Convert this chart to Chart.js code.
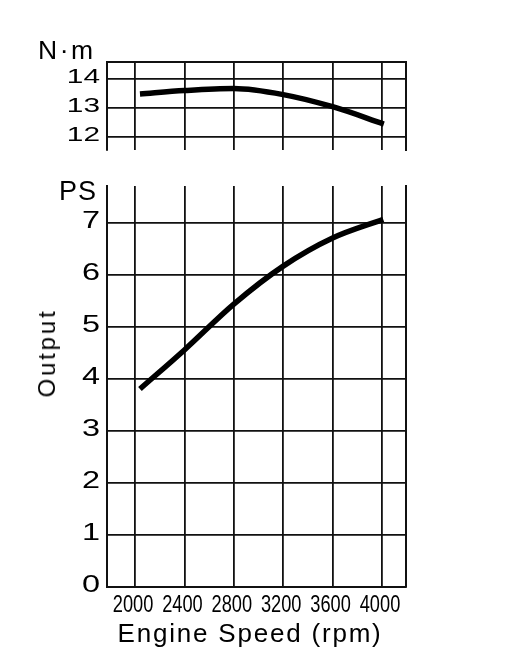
<!DOCTYPE html>
<html>
<head>
<meta charset="utf-8">
<script src="https://cdn.jsdelivr.net/npm/chart.js@4/dist/chart.umd.min.js"></script>
<style>
  html, body { margin: 0; padding: 0; background: #fff; }
  #page { position: relative; width: 530px; height: 657px; overflow: hidden; }
  canvas { position: absolute; left: 0; top: 0; }
  .lbl {
    position: absolute; color: #000; white-space: nowrap;
    font-family: 'Liberation Sans', Arial, sans-serif; line-height: 1;
  }
</style>
</head>
<body>
<div id="page">
  <canvas id="torqueChart" width="530" height="160"></canvas>
  <canvas id="powerChart" width="530" height="657"></canvas>
  <div class="lbl" style="left:38px; top:36.5px; font-size:26.5px; letter-spacing:2.5px;">N·m</div>
  <div class="lbl" style="left:59px; top:178px; font-size:27px; letter-spacing:1px;">PS</div>
  <div class="lbl" style="left:46.5px; top:353px; font-size:24px; letter-spacing:2.8px; transform:translate(-50%,-50%) rotate(-90deg);">Output</div>
  <div class="lbl" style="left:117.5px; top:620px; font-size:26px; letter-spacing:1.8px;">Engine Speed (rpm)</div>
</div>
<script>
// ── Data ─────────────────────────────────────────────────────
const torqueRpm = [2040, 2400, 2800, 3200, 3600, 4015];
const torqueNm = [13.49, 13.61, 13.68, 13.47, 13.05, 12.45];

const powerRpm = [2040, 2400, 2800, 3200, 3600, 4010];
const powerPS = [3.80, 4.55, 5.43, 6.16, 6.70, 7.06];

const rpmTicks = [2000, 2400, 2800, 3200, 3600, 4000];
const torqueTicks = [12, 13, 14];
const powerTicks = [0, 1, 2, 3, 4, 5, 6, 7];

// ── Shared look ──────────────────────────────────────────────
const INK = '#111';
const FAMILY = "'Liberation Sans', Arial, sans-serif";
const RPM_MIN = 1773, RPM_MAX = 4192;

// Linear scale whose tick labels can be stretched/condensed horizontally
// (the original uses a wide face for values and a narrow one for rpm)
class StretchLinear extends Chart.LinearScale {
  drawLabels(chartArea) {
    const sx = this.options.ticks.stretch || 1;
    if (sx === 1) return super.drawLabels(chartArea);
    const ctx = this.ctx;
    for (const item of this.getLabelItems(chartArea)) {
      const o = item.options;
      ctx.save();
      ctx.translate(o.translation[0], o.translation[1]);
      ctx.scale(sx, 1);
      ctx.font = item.font.string;
      ctx.fillStyle = o.color;
      ctx.textAlign = o.textAlign;
      ctx.textBaseline = o.textBaseline;
      ctx.fillText(item.label, 0, item.textOffset);
      ctx.restore();
    }
  }
}
StretchLinear.id = 'stretchLinear';
StretchLinear.defaults = Chart.LinearScale.defaults;
Chart.register(StretchLinear);

const setTicks = list => scale => { scale.ticks = list.map(v => ({ value: v })); };
// fix an axis box size and drop the label overhang padding Chart.js adds
const fixBox = (w, h) => scale => {
  if (w !== null) scale.width = w;
  if (h !== null) scale.height = h;
  scale.paddingTop = scale.paddingBottom = scale.paddingLeft = scale.paddingRight = 0;
};

// an axis that only draws its border line (used for the frame edges)
function edgeAxis(position, min, max, fit) {
  return {
    type: 'linear', position, min, max,
    grid: { display: false },
    ticks: { display: false },
    border: { display: true, color: INK, width: 2 },
    afterFit: fit
  };
}

function curve(xs, ys) {
  return {
    data: xs.map((x, i) => ({ x, y: ys[i] })),
    borderColor: '#000',
    borderWidth: 5.5,
    borderCapStyle: 'butt',
    pointRadius: 0,
    cubicInterpolationMode: 'monotone',
    fill: false
  };
}

Chart.defaults.animation = false;
Chart.defaults.plugins.legend.display = false;
Chart.defaults.plugins.tooltip.enabled = false;

// ── Torque (upper) ───────────────────────────────────────────
new Chart(document.getElementById('torqueChart'), {
  type: 'line',
  data: { datasets: [curve(torqueRpm, torqueNm)] },
  options: {
    responsive: false,
    layout: { padding: { top: 62.3, right: 124.3, bottom: 10, left: 0 } },
    scales: {
      x: {
        type: 'linear', min: RPM_MIN, max: RPM_MAX,
        afterBuildTicks: setTicks(rpmTicks),
        grid: { color: INK, lineWidth: 1.8, drawTicks: false },
        ticks: { display: false },
        border: { display: false },
        afterFit: fixBox(null, 0)
      },
      x2: edgeAxis('top', RPM_MIN, RPM_MAX, fixBox(null, 0)),
      y: {
        type: 'stretchLinear', min: 11.55, max: 14.59,
        afterBuildTicks: setTicks(torqueTicks),
        grid: { color: INK, lineWidth: 1.8, drawTicks: false },
        border: { display: true, color: INK, width: 2 },
        ticks: { color: '#000', font: { family: FAMILY, size: 21 }, stretch: 1.42, padding: 7, labelOffset: -2 },
        afterFit: fixBox(107, null)
      },
      y2: edgeAxis('right', 11.55, 14.59, fixBox(0, null))
    }
  }
});

// ── Output (lower) ───────────────────────────────────────────
new Chart(document.getElementById('powerChart'), {
  type: 'line',
  data: { datasets: [curve(powerRpm, powerPS)] },
  options: {
    responsive: false,
    layout: { padding: { top: 186, right: 124.3, bottom: 0, left: 0 } },
    scales: {
      x: {
        type: 'stretchLinear', min: RPM_MIN, max: RPM_MAX,
        afterBuildTicks: setTicks(rpmTicks),
        grid: { color: INK, lineWidth: 1.8, drawTicks: false },
        border: { display: true, color: INK, width: 2 },
        ticks: {
          color: '#000', font: { family: FAMILY, size: 24 }, stretch: 0.76,
          padding: 4, labelOffset: -2,
          autoSkip: false, maxRotation: 0, minRotation: 0,
          callback: v => String(v)
        },
        afterFit: fixBox(null, 70.3)
      },
      y: {
        type: 'stretchLinear', min: 0, max: 7.7,
        afterBuildTicks: setTicks(powerTicks),
        grid: { color: INK, lineWidth: 1.8, drawTicks: false },
        border: { display: true, color: INK, width: 2 },
        ticks: { color: '#000', font: { family: FAMILY, size: 23.5 }, stretch: 1.38, padding: 7, labelOffset: -1 },
        afterFit: fixBox(107, null)
      },
      y2: edgeAxis('right', 0, 7.7, fixBox(0, null))
    }
  }
});
</script>
</body>
</html>
